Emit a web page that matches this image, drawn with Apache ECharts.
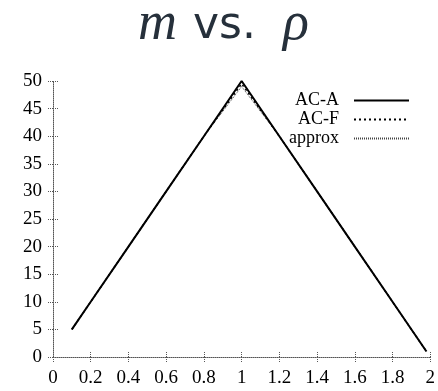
<!DOCTYPE html>
<html><head><meta charset="utf-8">
<script src="https://cdn.jsdelivr.net/npm/echarts@6/dist/echarts.min.js"></script>
<style>html,body{margin:0;padding:0;background:#fff}#c{width:438px;height:391px}</style>
</head><body><div id="c"></div>
<script>
var xTicks = [0, 0.2, 0.4, 0.6, 0.8, 1, 1.2, 1.4, 1.6, 1.8, 2];
var yTicks = [0, 5, 10, 15, 20, 25, 30, 35, 40, 45, 50];
var rhoA = [0.1, 0.2, 0.4, 0.6, 0.8, 1.0, 1.2, 1.4, 1.6, 1.8, 1.98];
var mA   = [5, 10, 20, 30, 40, 50, 40, 30, 20, 10, 1];
var rhoF = [0.1, 0.2, 0.4, 0.6, 0.8, 1.0, 1.2, 1.4, 1.6, 1.8, 1.98];
var mF   = [5, 10, 20, 30, 40, 49.5, 40, 30, 20, 10, 1];
var rhoP = [0.1, 0.2, 0.4, 0.6, 0.8, 1.0, 1.2, 1.4, 1.6, 1.8, 1.98];
var mP   = [5, 10, 20, 30, 40, 49, 40, 30, 20, 10, 1];
var titleParts = ['m', 'vs.', 'ρ'];
function zip(a, b) { return a.map(function (v, i) { return [v, b[i]]; }); }
var tickStyle = { type: [1, 1], color: '#555', width: 1 };
var serif = "'Liberation Serif', 'Times New Roman', serif";
var chart = echarts.init(document.getElementById('c'));
var labelFont = { fontFamily: serif, fontSize: 19, color: '#000' };
var mathStyle = { fontFamily: serif, fontStyle: 'italic', fontWeight: 'normal', fontSize: 54, lineHeight: 54, color: '#26303b' };
var sansStyle = { fontFamily: "'DejaVu Sans', sans-serif", fontWeight: 'normal', fontSize: 44, lineHeight: 44, color: '#26303b' };
chart.setOption({
  animation: false,
  title: [
    { left: 138, top: -2, padding: 0, text: titleParts[0], textStyle: mathStyle },
    { left: 193, top: 5, padding: 0, text: titleParts[1], textStyle: sansStyle },
    { left: 283, top: -2, padding: 0, text: titleParts[2], textStyle: mathStyle }
  ],
  legend: {
    orient: 'vertical', right: 23, top: 86, align: 'right',
    itemWidth: 55, itemHeight: 10, itemGap: 0,
    itemStyle: { opacity: 0 },
    textStyle: { fontFamily: serif, fontSize: 18, lineHeight: 19, color: '#000', padding: [0, 10, 0, 0] },
    data: ['AC-A', 'AC-F', 'approx']
  },
  grid: { left: 53, right: 7, top: 81, bottom: 34, containLabel: false },
  xAxis: [{
    type: 'value', min: 0, max: 2, interval: 0.2, position: 'bottom',
    axisLine: { show: true, lineStyle: tickStyle },
    axisTick: { show: true, inside: true, length: 5, lineStyle: tickStyle },
    splitLine: { show: false },
    axisLabel: Object.assign({ margin: 12 }, labelFont)
  }, {
    type: 'value', min: 0, max: 2, interval: 0.2, position: 'top',
    axisLine: { show: false },
    axisTick: { show: true, inside: true, length: 6, lineStyle: tickStyle },
    splitLine: { show: false }, axisLabel: { show: false }
  }],
  yAxis: [{
    type: 'value', min: 0, max: 50, interval: 5, position: 'left',
    axisLine: { show: true, lineStyle: tickStyle },
    axisTick: { show: true, inside: true, length: 5, lineStyle: tickStyle },
    splitLine: { show: false },
    axisLabel: Object.assign({ margin: 11 }, labelFont)
  }, {
    type: 'value', min: 0, max: 50, interval: 5, position: 'right',
    axisLine: { show: false },
    axisTick: { show: true, inside: true, length: 6, lineStyle: tickStyle },
    splitLine: { show: false }, axisLabel: { show: false }
  }],
  series: [{
    name: 'AC-A', type: 'line', symbol: 'none', data: zip(rhoA, mA),
    lineStyle: { color: '#000', width: 2, type: 'solid' }, itemStyle: { color: '#000' }, z: 3
  }, {
    name: 'AC-F', type: 'line', symbol: 'none', data: zip(rhoF, mF),
    lineStyle: { color: '#000', width: 1.5, type: [2, 3] }, itemStyle: { color: '#000' }, z: 2
  }, {
    name: 'approx', type: 'line', symbol: 'none', data: zip(rhoP, mP),
    lineStyle: { color: '#444', width: 1, type: [1, 1] }, itemStyle: { color: '#444' }, z: 1
  }]
});
</script></body></html>
